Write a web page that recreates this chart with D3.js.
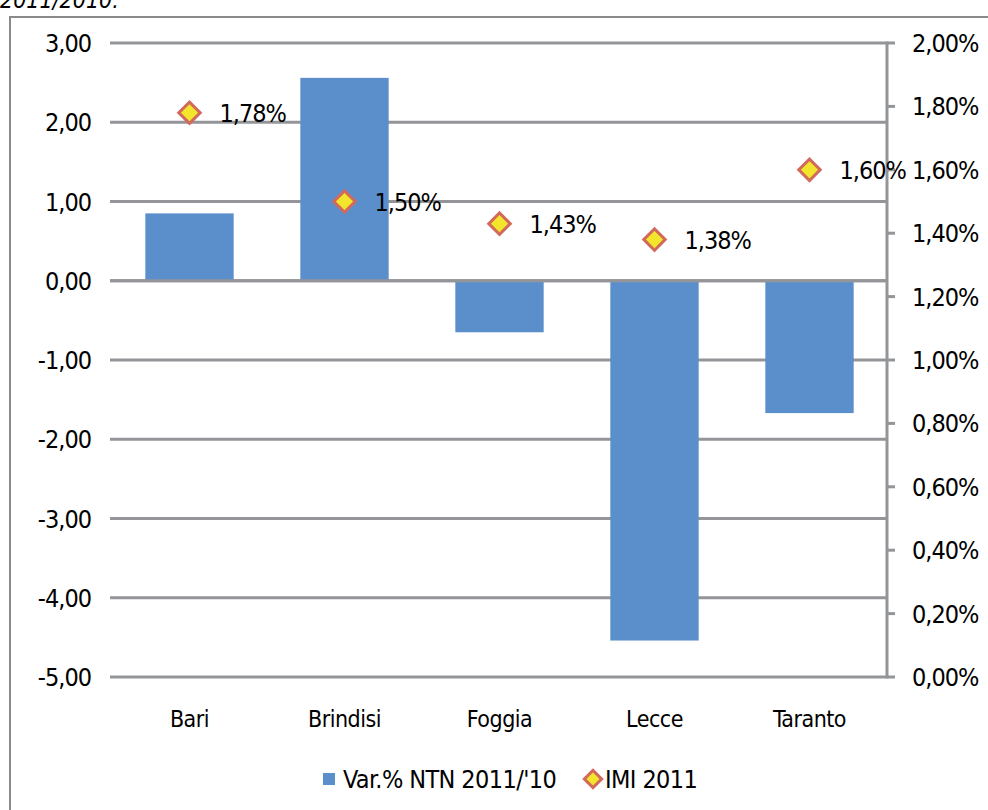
<!DOCTYPE html>
<html>
<head>
<meta charset="utf-8">
<script src="https://cdn.jsdelivr.net/npm/d3@7"></script>
<style>
  body { margin: 0; background: #fff; }
  text { font-family: 'Liberation Sans Narrow', 'DejaVu Sans Condensed', 'Arial Narrow', sans-serif; fill: #000; }
</style>
</head>
<body>
<div id="chart"></div>
<script>
// data
const provinces = ['Bari', 'Brindisi', 'Foggia', 'Lecce', 'Taranto'];
const varNtn = [0.85, 2.56, -0.65, -4.54, -1.67];
const imi = [0.0178, 0.0150, 0.0143, 0.0138, 0.0160];
const leftTicks = [3, 2, 1, 0, -1, -2, -3, -4, -5];
const rightTicks = [0, 0.002, 0.004, 0.006, 0.008, 0.010, 0.012, 0.014, 0.016, 0.018, 0.020];

const width = 988;
const height = 810;
const plot = { left: 112, right: 887, top: 43, bottom: 677 };

const it = d3.formatLocale({ decimal: ',', thousands: '.', grouping: [3], currency: ['€', ''], minus: '-' });
const fmtLeft = it.format('.2f');
const fmtPct = it.format('.2%');

const barColor = '#5b8fcc';
const gridColor = '#939598';

const svg = d3.select('#chart')
  .append('svg')
  .attr('width', width)
  .attr('height', height);

// cut-off caption + outer frame
svg.append('text')
  .attr('x', 0)
  .attr('y', 8)
  .style('font-style', 'italic')
  .style('font-size', '23px')
  .text('2011/2010.');

svg.append('rect')
  .attr('x', 10)
  .attr('y', 17)
  .attr('width', 990)
  .attr('height', 810)
  .attr('fill', 'none')
  .attr('stroke', '#8a8a8a')
  .attr('stroke-width', 2);

const x = d3.scaleBand()
  .domain(provinces)
  .range([plot.left, plot.right])
  .paddingInner(0.43)
  .paddingOuter(0.215);

const y = d3.scaleLinear().domain([-5, 3]).range([plot.bottom, plot.top]);
const y2 = d3.scaleLinear().domain([0, 0.02]).range([plot.bottom, plot.top]);

// gridlines (left axis)
svg.append('g')
  .selectAll('line')
  .data(leftTicks)
  .enter().append('line')
  .attr('x1', plot.left - 2)
  .attr('x2', plot.right)
  .attr('y1', d => y(d))
  .attr('y2', d => y(d))
  .attr('stroke', gridColor)
  .attr('stroke-width', 3);

svg.append('g')
  .selectAll('text')
  .data(leftTicks)
  .enter().append('text')
  .attr('x', 91)
  .attr('y', d => y(d) + 9)
  .attr('text-anchor', 'end')
  .style('font-size', '25px')
  .style('letter-spacing', '-1px')
  .text(d => fmtLeft(d));

// bars
svg.append('g')
  .selectAll('rect')
  .data(provinces)
  .enter().append('rect')
  .attr('x', d => x(d))
  .attr('width', x.bandwidth())
  .attr('y', (d, i) => y(Math.max(0, varNtn[i])))
  .attr('height', (d, i) => Math.abs(y(varNtn[i]) - y(0)))
  .attr('fill', barColor);

// zero line over bars
svg.append('line')
  .attr('x1', plot.left - 2)
  .attr('x2', plot.right)
  .attr('y1', y(0))
  .attr('y2', y(0))
  .attr('stroke', gridColor)
  .attr('stroke-width', 3);

// right axis
const rAxis = svg.append('g');
rAxis.append('line')
  .attr('x1', plot.right)
  .attr('x2', plot.right)
  .attr('y1', plot.top - 1.5)
  .attr('y2', plot.bottom + 1.5)
  .attr('stroke', gridColor)
  .attr('stroke-width', 3);
rAxis.selectAll('line.tick')
  .data(rightTicks)
  .enter().append('line')
  .attr('class', 'tick')
  .attr('x1', plot.right)
  .attr('x2', plot.right + 8)
  .attr('y1', d => y2(d))
  .attr('y2', d => y2(d))
  .attr('stroke', gridColor)
  .attr('stroke-width', 3);
rAxis.selectAll('text')
  .data(rightTicks)
  .enter().append('text')
  .attr('x', 912)
  .attr('y', d => y2(d) + 9)
  .style('font-size', '25px')
  .style('letter-spacing', '-1px')
  .text(d => fmtPct(d));

// category labels
svg.append('g')
  .selectAll('text')
  .data(provinces)
  .enter().append('text')
  .attr('x', d => x(d) + x.bandwidth() / 2)
  .attr('y', 727)
  .attr('text-anchor', 'middle')
  .style('font-size', '23px')
  .style('letter-spacing', '-0.5px')
  .text(d => d);

// IMI markers
const diamond = d3.symbol().type(d3.symbolSquare).size(230);
const cx = d => x(d) + x.bandwidth() / 2;

const pts = svg.append('g');
pts.selectAll('path')
  .data(provinces)
  .enter().append('path')
  .attr('d', diamond)
  .attr('transform', (d, i) => `translate(${cx(d)},${y2(imi[i])}) rotate(45)`)
  .attr('fill', '#f2e52b')
  .attr('stroke', '#d26a5c')
  .attr('stroke-width', 3);
pts.selectAll('text')
  .data(provinces)
  .enter().append('text')
  .attr('x', d => cx(d) + 30)
  .attr('y', (d, i) => y2(imi[i]) + 9)
  .style('font-size', '25px')
  .style('letter-spacing', '-1px')
  .text((d, i) => fmtPct(imi[i]));

// legend
const lg = svg.append('g');
lg.append('rect')
  .attr('x', 323)
  .attr('y', 773)
  .attr('width', 12)
  .attr('height', 12)
  .attr('fill', barColor);
lg.append('text')
  .attr('x', 343)
  .attr('y', 788)
  .style('font-size', '25px')
  .style('letter-spacing', '-0.6px')
  .text("Var.% NTN 2011/'10");
lg.append('path')
  .attr('d', d3.symbol().type(d3.symbolSquare).size(150))
  .attr('transform', 'translate(593,779) rotate(45)')
  .attr('fill', '#f2e52b')
  .attr('stroke', '#d26a5c')
  .attr('stroke-width', 3);
lg.append('text')
  .attr('x', 605)
  .attr('y', 788)
  .style('font-size', '25px')
  .style('letter-spacing', '-0.6px')
  .text('IMI 2011');
</script>
</body>
</html>
